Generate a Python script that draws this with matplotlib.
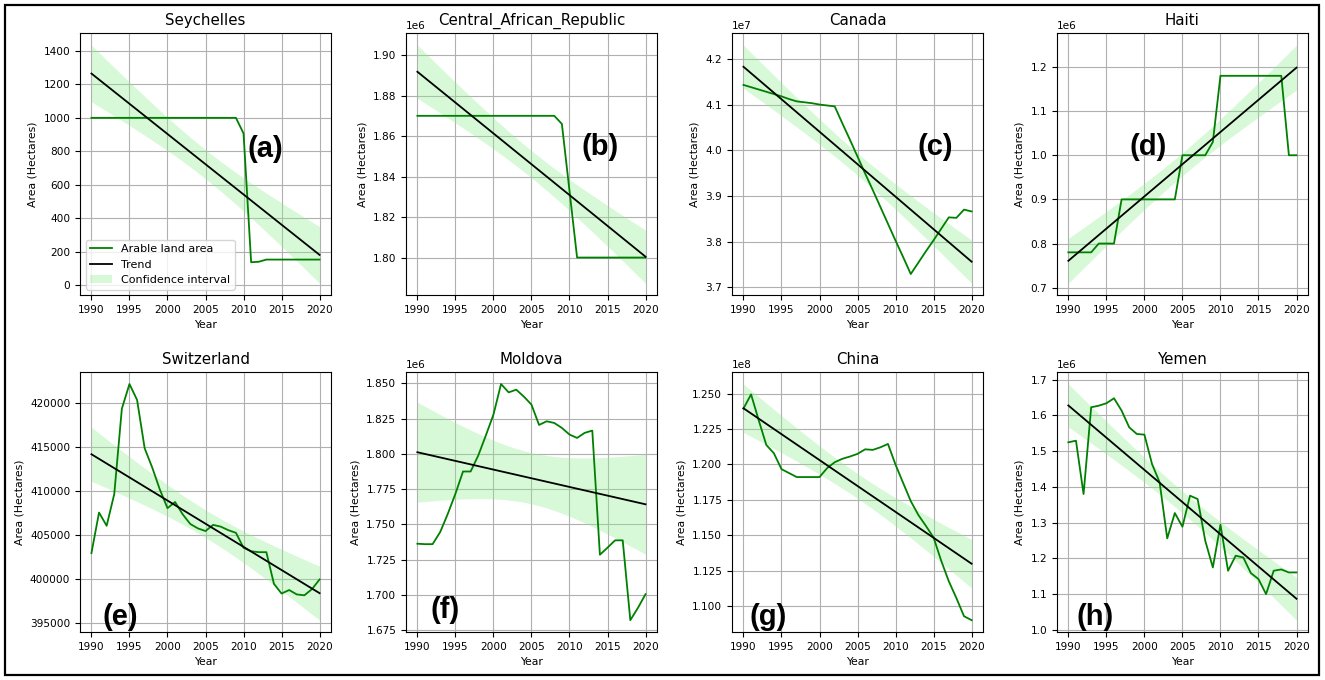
import numpy as np
import matplotlib.pyplot as plt
from matplotlib.patches import Rectangle

# years on the x axis
years = np.arange(1990, 2021)

# arable land area (hectares), 1990..2020
seychelles = [1000, 1000, 1000, 1000, 1000, 1000, 1000, 1000, 1000, 1000,
              1000, 1000, 1000, 1000, 1000, 1000, 1000, 1000, 1000, 1000,
              907, 137, 140, 153, 153, 153, 153, 153, 153, 153, 153]

central_african_republic = [1870000, 1870000, 1870000, 1870000, 1870000, 1870000, 1870000,
                            1870000, 1870000, 1870000, 1870000, 1870000, 1870000, 1870000,
                            1870000, 1870000, 1870000, 1870000, 1870000, 1866000, 1833000,
                            1800000, 1800000, 1800000, 1800000, 1800000, 1800000, 1800000,
                            1800000, 1800000, 1800000]

canada = [41430000, 41380000, 41330000, 41280000, 41230000, 41180000, 41120000, 41070000,
          41050000, 41030000, 41000000, 40980000, 40960000, 40590000, 40230000, 39860000,
          39490000, 39130000, 38760000, 38390000, 38020000, 37660000, 37290000, 37540000,
          37790000, 38030000, 38280000, 38530000, 38520000, 38700000, 38660000]

haiti = [780000, 780000, 780000, 780000, 800000, 800000, 800000, 900000, 900000, 900000,
         900000, 900000, 900000, 900000, 900000, 1000000, 1000000, 1000000, 1000000, 1030000,
         1180000, 1180000, 1180000, 1180000, 1180000, 1180000, 1180000, 1180000, 1180000,
         1000000, 1000000]

switzerland = [403000, 407600, 406100, 409700, 419400, 422200, 420400, 414900, 412700, 410200,
               408100, 408800, 407400, 406300, 405800, 405500, 406200, 406000, 405600, 405300,
               403600, 403200, 403100, 403100, 399500, 398400, 398800, 398300, 398200, 398900,
               400000]

moldova = [1736300, 1736000, 1736000, 1744600, 1757500, 1771700, 1787500, 1787500, 1798800,
           1813000, 1827800, 1849500, 1843600, 1845500, 1840600, 1834900, 1820500, 1823100,
           1821900, 1818400, 1813700, 1811300, 1814900, 1816500, 1728500, 1733500, 1738700,
           1738700, 1682100, 1690800, 1700500]

china = [123950000, 124950000, 123130000, 121380000, 120790000, 119670000, 119390000,
         119110000, 119110000, 119110000, 119110000, 119740000, 120160000, 120400000,
         120560000, 120750000, 121070000, 121030000, 121210000, 121450000, 119980000,
         118690000, 117410000, 116430000, 115650000, 114840000, 113200000, 111750000,
         110560000, 109280000, 109000000]

yemen = [1524500, 1529000, 1379700, 1622500, 1627000, 1633700, 1647700, 1613200, 1566500,
         1547800, 1545900, 1463800, 1412400, 1255600, 1326500, 1288200, 1375100, 1365700,
         1249000, 1174300, 1293800, 1165000, 1207000, 1202300, 1158500, 1141700, 1099600,
         1165000, 1168700, 1160300, 1160300]

countries = ["Seychelles", "Central_African_Republic", "Canada", "Haiti",
             "Switzerland", "Moldova", "China", "Yemen"]
series = [seychelles, central_african_republic, canada, haiti,
          switzerland, moldova, china, yemen]
panel_tags = ["(a)", "(b)", "(c)", "(d)", "(e)", "(f)", "(g)", "(h)"]

# where the (a)..(h) tags sit, in axes fractions
tag_pos = [(0.737, 0.56), (0.773, 0.565), (0.81, 0.565), (0.363, 0.565),
           (0.16, 0.058), (0.155, 0.085), (0.143, 0.058), (0.151, 0.058)]

# t value for a 95% interval with 29 degrees of freedom
T_VALUE = 2.045


def trend_with_ci(x, y):
    # plain least squares line and the band for the mean
    x = np.asarray(x, dtype=float)
    y = np.asarray(y, dtype=float)
    slope, intercept = np.polyfit(x, y, 1)
    fit = slope * x + intercept
    n = len(x)
    s = np.sqrt(np.sum((y - fit) ** 2) / (n - 2))
    sxx = np.sum((x - x.mean()) ** 2)
    half = T_VALUE * s * np.sqrt(1.0 / n + (x - x.mean()) ** 2 / sxx)
    return fit, half


fig = plt.figure(figsize=(13.25, 6.8), dpi=100)

lefts = [0.0604, 0.3064, 0.5525, 0.7977]
bottoms = [0.566, 0.0706]
width = 0.1894
heights = [0.385, 0.382]

for i, (name, values) in enumerate(zip(countries, series)):
    row, col = divmod(i, 4)
    ax = fig.add_axes([lefts[col], bottoms[row], width, heights[row]])

    fit, half = trend_with_ci(years, values)
    ax.fill_between(years, fit - half, fit + half, color='lightgreen', alpha=0.35,
                    linewidth=0, label='Confidence interval', zorder=1)
    ax.plot(years, values, color='green', linewidth=1.3, label='Arable land area', zorder=2)
    ax.plot(years, fit, color='black', linewidth=1.3, label='Trend', zorder=3)

    ax.set_title(name, fontsize=10.8)
    ax.set_xlabel("Year", fontsize=7.8)
    ax.set_ylabel("Area (Hectares)", fontsize=7.8)
    ax.set_xticks(range(1990, 2021, 5))
    ax.tick_params(labelsize=7.6)
    ax.yaxis.get_offset_text().set_fontsize(7.6)
    ax.grid(True, color='#b0b0b0', linewidth=0.8)
    ax.set_axisbelow(True)

    ax.text(tag_pos[i][0], tag_pos[i][1], panel_tags[i], transform=ax.transAxes,
            ha='center', va='center', fontsize=21, fontweight='bold',
            family='Liberation Sans', zorder=5)

    if i == 0:
        handles, labels = ax.get_legend_handles_labels()
        order = [1, 2, 0]
        ax.legend([handles[k] for k in order], [labels[k] for k in order],
                  loc='lower left', fontsize=8)

# black frame round the whole figure
fig.add_artist(Rectangle((0.0038, 0.0074), 0.9917, 0.9852, transform=fig.transFigure,
                         fill=False, edgecolor='black', linewidth=1.6))

fig.savefig("out.png", dpi=100)
